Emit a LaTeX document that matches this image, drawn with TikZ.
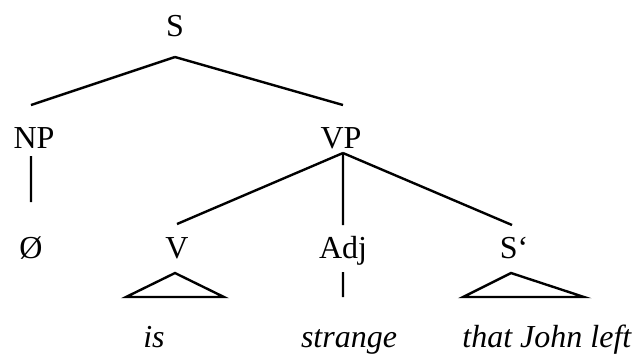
\documentclass[tikz,border=0pt]{standalone}
\usepackage{fontspec}
\setmainfont{Liberation Serif}
\begin{document}
\begin{tikzpicture}[line width=1.2pt,
    cat/.style={anchor=base,inner sep=0pt,font=\fontsize{16}{19}\selectfont},
    word/.style={cat,font=\fontsize{16}{19}\selectfont\itshape}]
    \useasboundingbox (0,0) rectangle (111.41mm,-62.56mm);

    % categories
    \node[cat] (S) at (30.75mm,-6.5mm) {S};
    \node[cat] (NP) at (5.97mm,-26.01mm) {NP};
    \node[cat] (VP) at (59.92mm,-26.01mm) {VP};
    \node[cat] (empty) at (5.45mm,-45.34mm) {Ø};
    \node[cat] (V) at (31.1mm,-45.34mm) {V};
    \node[cat] (Adj) at (60.28mm,-45.34mm) {Adj};
    \node[cat] (Sbar) at (90.33mm,-45.34mm) {S‘};

    % words
    \node[word] (is) at (27.06mm,-60.98mm) {is};
    \node[word] (strange) at (61.33mm,-60.98mm) {strange};
    \node[word] (clause) at (96.1mm,-60.98mm) {that John left};

    \draw ([yshift=-10pt]S.base) -- ([xshift=-1.5pt,yshift=21.5pt]NP.base);
    \draw ([yshift=-10pt]S.base) -- ([xshift=1pt,yshift=21.5pt]VP.base);
    \draw ([xshift=-1.5pt,yshift=-4pt]NP.base) -- ([yshift=28pt]empty.base);
    \draw ([xshift=1pt,yshift=-2.5pt]VP.base) -- ([yshift=17pt]V.base);
    \draw ([xshift=1pt,yshift=-2.5pt]VP.base) -- ([yshift=16.5pt]Adj.base);
    \draw ([xshift=1pt,yshift=-2.5pt]VP.base) -- ([xshift=-1pt,yshift=16.5pt]Sbar.base);

    \draw ([xshift=-1pt,yshift=-7.5pt]V.base) -- ++(-24.5pt,-12pt) -- ++(49pt,0pt) -- cycle;
    \draw ([yshift=-7pt]Adj.base) -- ([xshift=-3pt,yshift=25pt]strange.base);
    \draw ([xshift=-1.5pt,yshift=-7.5pt]Sbar.base) -- ++(-24pt,-12pt) -- ++(60.5pt,0pt) -- cycle;
  \end{tikzpicture}
\end{document}
